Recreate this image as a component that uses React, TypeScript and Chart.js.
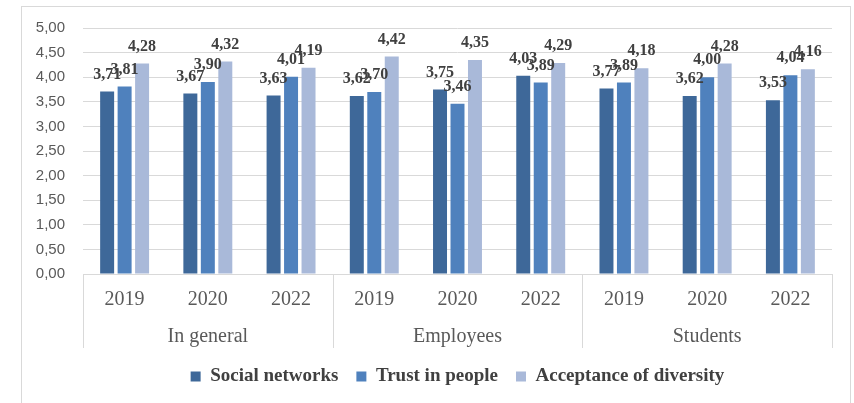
import React, { useEffect, useRef } from "react";
import { Chart, registerables } from "chart.js";

Chart.register(...registerables);

const years = ["2019", "2020", "2022", "2019", "2020", "2022", "2019", "2020", "2022"];
const groups = ["In general", "Employees", "Students"];
const seriesNames = ["Social networks", "Trust in people", "Acceptance of diversity"];
const socialNetworks = [3.71, 3.67, 3.63, 3.62, 3.75, 4.03, 3.77, 3.62, 3.53];
const trustInPeople = [3.81, 3.9, 4.01, 3.7, 3.46, 3.89, 3.89, 4.0, 4.04];
const acceptanceOfDiversity = [4.28, 4.32, 4.19, 4.42, 4.35, 4.29, 4.18, 4.28, 4.16];
const seriesColors = ["#3E6899", "#4F81BD", "#A9B9D9"];
const yMin = 0;
const yMax = 5;
const yStep = 0.5;

const SERIF = "'Liberation Serif', 'Times New Roman', serif";
const SANS = "'Liberation Sans', Arial, sans-serif";

const fmt = (v: number) => v.toFixed(2).replace(".", ",");

const frame = {
  id: "frame",
  beforeDraw(chart: any) {
    const { ctx } = chart;
    ctx.save();
    ctx.strokeStyle = "#d9d9d9";
    ctx.lineWidth = 1;
    ctx.strokeRect(21.5, 6.5, 829, 500);
    ctx.restore();
  },
};

const separators = {
  id: "separators",
  afterDraw(chart: any) {
    const { ctx, chartArea } = chart;
    const x = chart.scales.x;
    const n = groups.length;
    ctx.save();
    ctx.strokeStyle = "#d9d9d9";
    ctx.lineWidth = 1;
    for (let i = 0; i <= n; i++) {
      const px = Math.round(x.left + (i * (x.right - x.left)) / n) + 0.5;
      ctx.beginPath();
      ctx.moveTo(px, chartArea.bottom);
      ctx.lineTo(px, chartArea.bottom + 74);
      ctx.stroke();
    }
    ctx.restore();
  },
};

const valueLabels = {
  id: "valueLabels",
  afterDatasetsDraw(chart: any) {
    const { ctx } = chart;
    ctx.save();
    ctx.font = "bold 16px " + SERIF;
    ctx.fillStyle = "#404040";
    ctx.textAlign = "center";
    ctx.textBaseline = "middle";
    chart.data.datasets.forEach((ds: any, di: number) => {
      const meta = chart.getDatasetMeta(di);
      meta.data.forEach((el: any, i: number) => {
        ctx.fillText(fmt(ds.data[i]), el.x, el.y - 17);
      });
    });
    ctx.restore();
  },
};

export default function App() {
  const ref = useRef<HTMLCanvasElement | null>(null);
  useEffect(() => {
    document.body.style.margin = "0";
    const canvas = ref.current!;
    const chart = new Chart(canvas, {
      type: "bar",
      data: {
        labels: years,
        datasets: [socialNetworks, trustInPeople, acceptanceOfDiversity].map((d, i) => ({
          label: seriesNames[i],
          data: d,
          backgroundColor: seriesColors[i],
          borderWidth: 0,
          categoryPercentage: 0.63,
          barPercentage: 0.8,
        })),
      },
      options: {
        responsive: false,
        animation: false,
        font: { family: SERIF },
        layout: { padding: { top: 28, left: 0, right: 22, bottom: 7 } },
        plugins: {
          tooltip: { enabled: false },
          legend: {
            position: "bottom",
            fullSize: false,
            labels: {
              boxWidth: 10,
              boxHeight: 10,
              padding: 18,
              color: "#404040",
              font: { family: SERIF, size: 19, weight: "bold" },
            },
          },
        },
        scales: {
          y: {
            min: yMin,
            max: yMax,
            grid: { color: "#d9d9d9", drawTicks: false },
            border: { display: false },
            ticks: {
              stepSize: yStep,
              padding: 18,
              color: "#595959",
              font: { family: SANS, size: 15 },
              callback: (v: any) => fmt(Number(v)),
            },
            afterFit: (s: any) => {
              s.width = 83;
            },
          },
          x: {
            grid: { display: false, drawTicks: false },
            border: { display: true, color: "#d9d9d9" },
            ticks: {
              padding: 14,
              color: "#595959",
              font: { family: SERIF, size: 20 },
              maxRotation: 0,
              autoSkip: false,
            },
            afterFit: (s: any) => {
              s.height = 38;
            },
          },
          x2: {
            type: "category",
            position: "bottom",
            labels: groups,
            grid: { display: false, drawTicks: false },
            border: { display: false },
            ticks: {
              padding: 13,
              color: "#595959",
              font: { family: SERIF, size: 20 },
              maxRotation: 0,
              autoSkip: false,
            },
            afterFit: (s: any) => {
              s.height = 37;
            },
          },
        },
      } as any,
      plugins: [frame, separators, valueLabels],
    });
    return () => chart.destroy();
  }, []);
  return <canvas ref={ref} width={854} height={403} style={{ display: "block" }} />;
}
